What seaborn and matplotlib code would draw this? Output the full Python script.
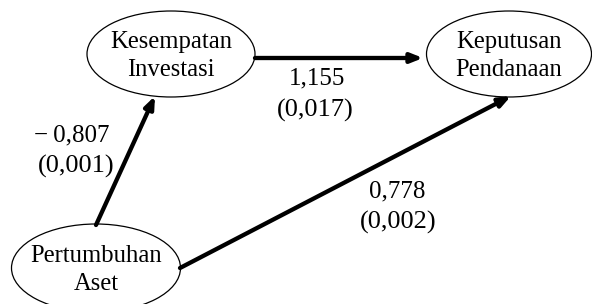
import matplotlib
matplotlib.use("Agg")
import matplotlib.pyplot as plt
from matplotlib.patches import Ellipse
import seaborn as sns

# Data
nodes = ["Kesempatan\nInvestasi", "Keputusan\nPendanaan", "Pertumbuhan\nAset"]
path_from = [0, 2, 2]
path_to = [1, 0, 1]
coef_labels = ["1,155", "\u2212\u20090,807", "0,778"]
pval_labels = ["(0,017)", "(0,001)", "(0,002)"]

sns.set_theme(style="white")
plt.rcParams['font.family'] = ['Liberation Serif', 'DejaVu Serif']

fig = plt.figure(figsize=(5.92, 3.04), dpi=100)
ax = fig.add_axes([0, 0, 1, 1])
ax.set_xlim(0, 592)
ax.set_ylim(304, 0)
ax.axis("off")

# layout (pixels)
centers = [(171, 54), (509, 54), (96, 268)]
sizes = [(168, 86), (165, 86), (169, 88)]
for (cx, cy), (w, h), name in zip(centers, sizes, nodes):
    ax.add_patch(Ellipse((cx, cy), w, h, fill=False, ec="black", lw=0.9))
    ax.text(cx, cy + 2, name, ha="center", va="center", fontsize=17.7,
            linespacing=1.3, color="black")

# arrow endpoints (pixels) by path
starts = [(255, 58), (96, 225), (180, 268)]
ends = [(423, 58), (155, 96), (511, 96)]
for (x0, y0), (x1, y1) in zip(starts, ends):
    ax.annotate("", xy=(x1, y1), xytext=(x0, y0),
                arrowprops=dict(arrowstyle="-|>,head_length=0.35,head_width=0.14",
                                mutation_scale=20, lw=3.1, color="black",
                                shrinkA=0, shrinkB=0))

label_pos = [((317, 78), (315, 110)), ((72, 135), (76, 166)), ((397, 191), (398, 222))]
for (p1, p2), c, pv in zip(label_pos, coef_labels, pval_labels):
    ax.text(p1[0], p1[1], c, ha="center", va="center", fontsize=18, color="black")
    ax.text(p2[0], p2[1], pv, ha="center", va="center", fontsize=19, color="black")

fig.savefig("out.png", dpi=100)
